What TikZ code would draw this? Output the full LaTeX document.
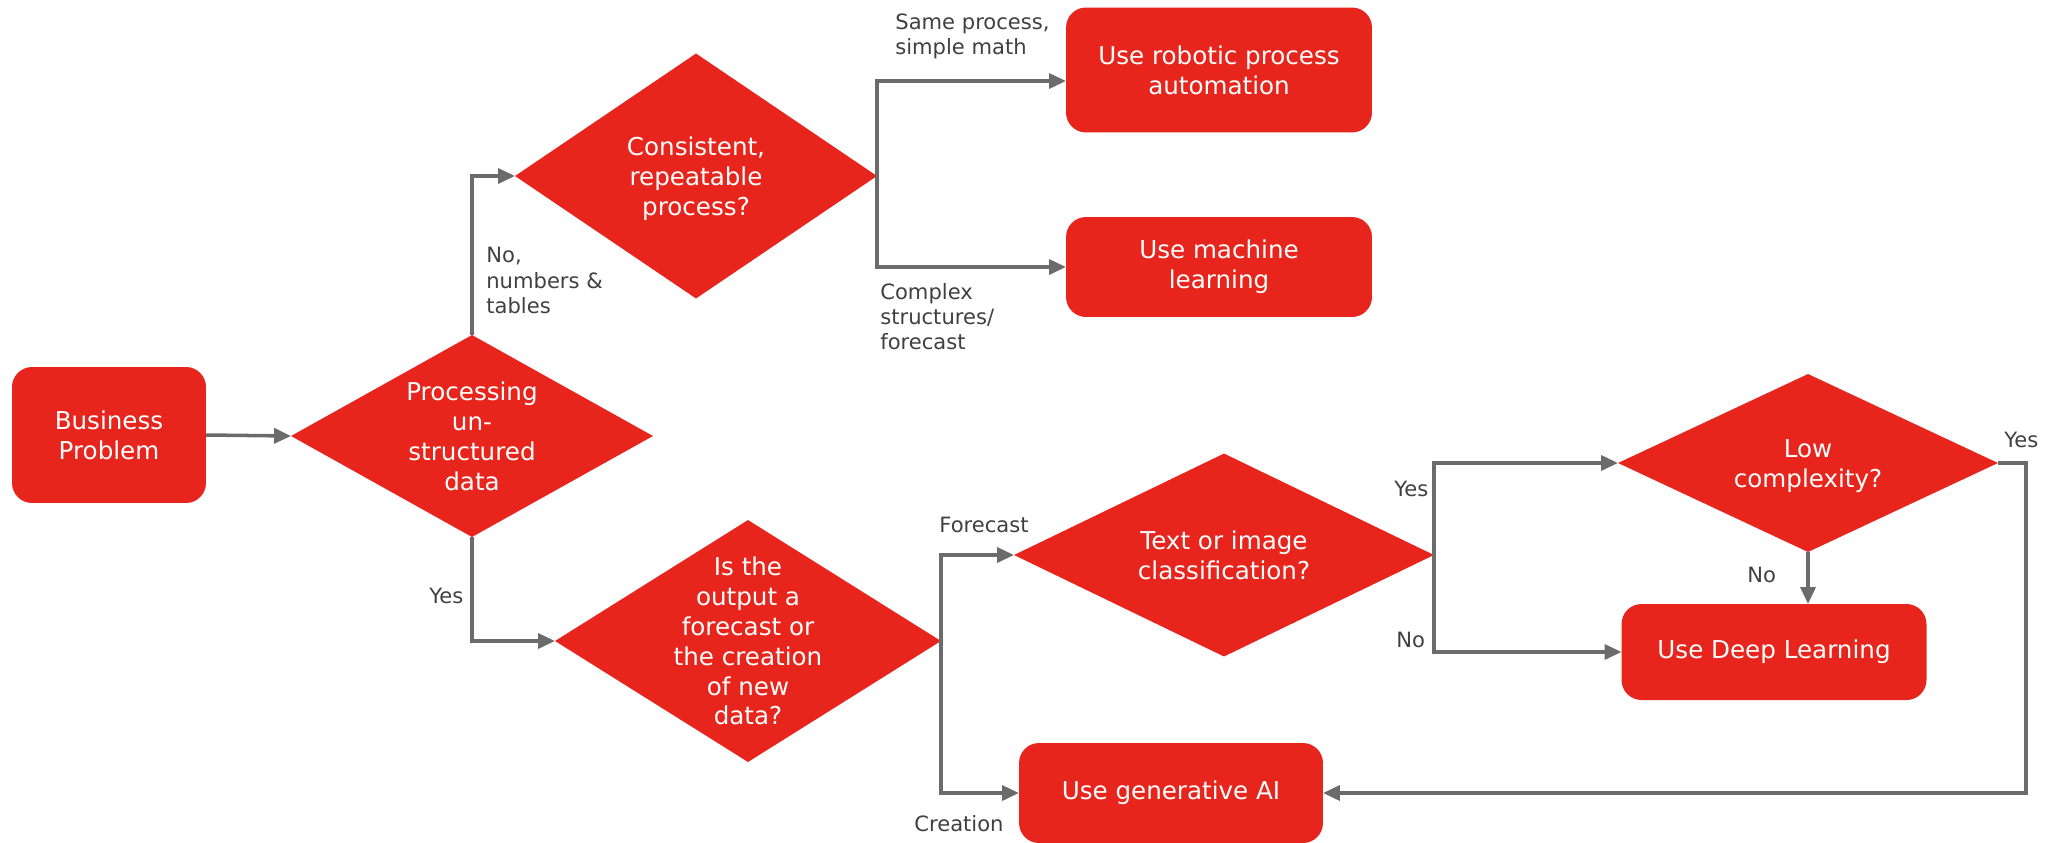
\documentclass[tikz,border=0pt]{standalone}
\usepackage{fontspec}
\setmainfont{DejaVu Sans}
\usetikzlibrary{shapes.geometric,arrows.meta}
\definecolor{flowred}{HTML}{E8251C}
\definecolor{flowgray}{HTML}{6B6B6B}
\definecolor{labelgray}{HTML}{404040}
% text of a decision diamond, kept out of the shape's size
\newcommand{\qtext}[1]{\makebox[0pt]{\smash{\raisebox{-5.5pt}{\begin{tabular}{@{}c@{}}#1\end{tabular}}}}}

\begin{document}
\begin{tikzpicture}[x=0.02cm, y=-0.02cm,
        action/.style={rectangle, rounded corners=0.4cm, fill=flowred, text=white, align=center,
            inner sep=0pt, outer sep=0pt, font=\fontsize{14}{17}\selectfont},
        decision/.style={diamond, fill=flowred, text=white, inner sep=0pt, outer sep=0pt,
            font=\fontsize{14}{17}\selectfont},
        flow/.style={draw=flowgray, line width=2pt, -{Triangle[length=0.34cm,width=0.3cm]}},
        answer/.style={anchor=north west, inner sep=0pt, align=left, text=labelgray,
            font=\fontsize{12}{14.4}\selectfont}]
        \useasboundingbox (0,0) rectangle (2054,842);

        % boxes
        \node[action, minimum width=3.88cm, minimum height=2.72cm] at (109,435) (problem) {Business\\Problem};
        \node[action, minimum width=6.12cm, minimum height=2.5cm] at (1219,70) (rpa) {Use robotic process\\automation};
        \node[action, minimum width=6.12cm, minimum height=2cm] at (1219,267) (ml) {Use machine\\learning};
        \node[action, minimum width=6.1cm, minimum height=1.92cm] at (1774,652) (deep) {Use Deep Learning};
        \node[action, minimum width=6.08cm, minimum height=2cm] at (1171,793) (genai) {Use generative AI};

        % questions
        \node[decision, minimum width=7.24cm, minimum height=4.04cm] at (472,436) (unstruct) {\qtext{Processing\\un-\\structured\\data}};
        \node[decision, minimum width=7.24cm, minimum height=4.9cm] at (696,176) (repeat) {\qtext{Consistent,\\repeatable\\process?}};
        \node[decision, minimum width=7.72cm, minimum height=4.84cm] at (748,641) (output) {\qtext{Is the\\output a\\forecast or\\the creation\\of new\\data?}};
        \node[decision, minimum width=8.4cm, minimum height=4.06cm] at (1224,555) (classify) {\qtext{Text or image\\classification?}};
        \node[decision, minimum width=7.6cm, minimum height=3.56cm] at (1808,463) (lowcx) {\qtext{Low\\complexity?}};

        % connectors
        \draw[flow] (problem.east) -- (unstruct.west);
        \draw[flow] (unstruct.north) |- (repeat.west);
        \draw[flow] (unstruct.south) |- (output.west);
        \draw[flow] (repeat.east) |- ([yshift=-0.22cm]rpa.west);
        \draw[flow] (repeat.east) |- (ml.west);
        \draw[flow] (output.east) |- (classify.west);
        \draw[flow] (output.east) |- (genai.west);
        \draw[flow] (classify.east) |- (lowcx.west);
        \draw[flow] (classify.east) |- (deep.west);
        \draw[flow] (lowcx.south) -- (lowcx.south |- deep.north);
        \draw[flow] (lowcx.east) -- ++(28,0) |- (genai.east);

        % answers
        \node[answer] at (895,13) (samemath) {Same process,\\simple math};
        \node[answer] at (880,283) (complex) {Complex\\structures/\\forecast};
        \node[answer] at (486,247) (numbers) {No,\\numbers \&\\tables};
        \node[answer] at (429,588) (unyes) {Yes};
        \node[answer] at (939,517) (forecast) {Forecast};
        \node[answer] at (914,815) (creation) {Creation};
        \node[answer] at (1394,481) (clyes) {Yes};
        \node[answer] at (1396,632) (clno) {No};
        \node[answer] at (1747,567) (lowno) {No};
        \node[answer] at (2004,432) (lowyes) {Yes};
\end{tikzpicture}
\end{document}
